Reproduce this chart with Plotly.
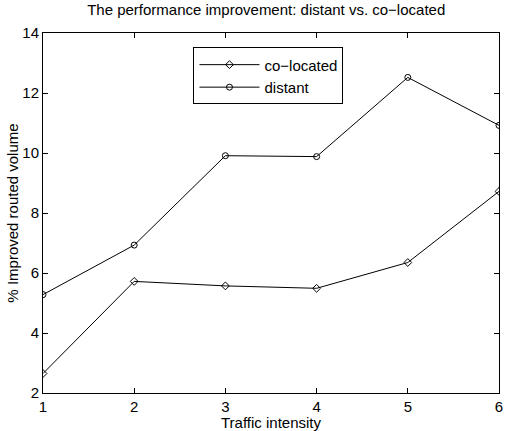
import plotly.graph_objects as go

traffic = [1, 2, 3, 4, 5, 6]
colocated = [2.65, 5.72, 5.57, 5.49, 6.35, 8.72]
distant = [5.28, 6.93, 9.91, 9.88, 12.52, 10.92]
x_ticks = [1, 2, 3, 4, 5, 6]
y_ticks = [2, 4, 6, 8, 10, 12, 14]

FONT = "Liberation Sans, Arial"

fig = go.Figure()
fig.add_trace(go.Scatter(x=traffic, y=colocated, mode="lines+markers", name="co\u2212located",
                         line=dict(color="black", width=1),
                         marker=dict(symbol="diamond-open", size=6, color="black", line=dict(width=1))))
fig.add_trace(go.Scatter(x=traffic, y=distant, mode="lines+markers", name="distant",
                         line=dict(color="black", width=1),
                         marker=dict(symbol="circle-open", size=6, color="black", line=dict(width=1))))

axis_common = dict(showgrid=False, zeroline=False, showline=True, linecolor="black", linewidth=1,
                   mirror="allticks", ticks="inside", ticklen=5, tickcolor="black",
                   tickfont=dict(family=FONT, size=15, color="black"))
fig.update_layout(
    width=508, height=431,
    margin=dict(l=43, r=5, t=33, b=37),
    paper_bgcolor="white", plot_bgcolor="white",
    title=dict(text="The performance improvement: distant vs. co\u2212located", x=0.524, xanchor="center",
               y=0.99, yanchor="top",
               font=dict(family=FONT, size=15, color="black")),
    xaxis=dict(range=[1, 6], tickvals=x_ticks,
               title=dict(text="Traffic intensity", standoff=0,
                          font=dict(family=FONT, size=15, color="black")),
               **axis_common),
    yaxis=dict(range=[2, 14], tickvals=y_ticks,
               title=dict(text="% Improved routed volume", standoff=0,
                          font=dict(family=FONT, size=15, color="black")),
               **axis_common),
    legend=dict(x=0.33, y=0.96, xanchor="left", yanchor="top", bgcolor="white",
                bordercolor="black", borderwidth=1,
                font=dict(family=FONT, size=15, color="black"),
                tracegroupgap=0, itemwidth=60),
    showlegend=True,
)
fig.write_html("out.html")
